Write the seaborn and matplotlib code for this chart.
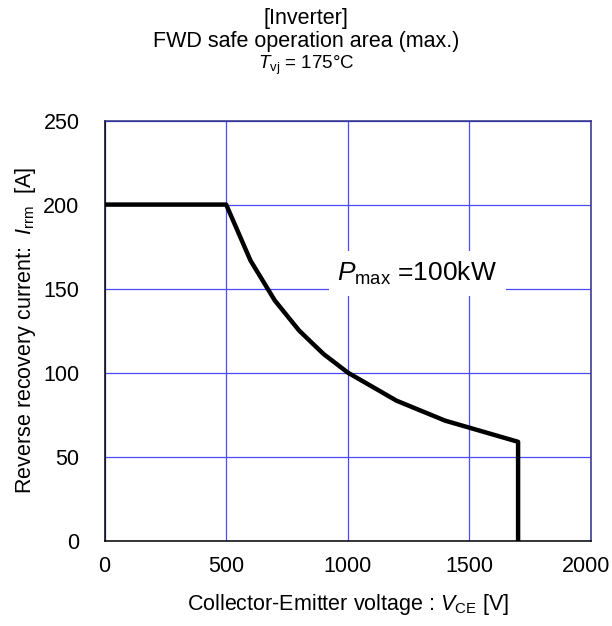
import matplotlib
matplotlib.use("Agg")
import matplotlib.pyplot as plt
import matplotlib.transforms as mtransforms
import seaborn as sns
import pandas as pd
from matplotlib.ticker import MultipleLocator

# FWD reverse-bias safe operating area boundary (P = 100 kW hyperbola section)
vce = [0, 500, 600, 700, 800, 900, 1000, 1200, 1400, 1700, 1700]
irrm = [200, 200, 166.7, 142.9, 125.0, 111.1, 100.0, 83.3, 71.4, 58.8, 0]

x_ticks = [0, 500, 1000, 1500, 2000]
y_ticks = [0, 50, 100, 150, 200, 250]

sns.set_theme(style="white")
plt.rcParams["font.family"] = ["Liberation Sans", "DejaVu Sans"]
plt.rcParams["mathtext.fontset"] = "custom"
plt.rcParams["mathtext.rm"] = "Liberation Sans"
plt.rcParams["mathtext.it"] = "Liberation Sans:italic"
plt.rcParams["text.color"] = "black"

df = pd.DataFrame({"VCE": vce, "Irrm": irrm})

fig = plt.figure(figsize=(6.12, 6.26), dpi=100)
ax = fig.add_axes([0.1708, 0.1364, 0.795, 0.671])

ax.set_xticks(x_ticks)
ax.set_yticks(y_ticks)
ax.xaxis.set_minor_locator(MultipleLocator(100))
ax.yaxis.set_minor_locator(MultipleLocator(10))
ax.grid(True, which="major", color="#4a4aff", linewidth=0.9)
ax.set_axisbelow(True)

sns.lineplot(data=df, x="VCE", y="Irrm", sort=False, estimator=None,
             errorbar=None, color="black", linewidth=3.2, ax=ax, zorder=3)
ax.set_xlim(0, 2000)
ax.set_ylim(0, 250)

for side, s in ax.spines.items():
    s.set_linewidth(1.1)
    s.set_color("black" if side in ("left", "bottom") else "#2e2e86")
ax.tick_params(axis="both", which="both", direction="in", colors="black",
               labelcolor="black", labelsize=15.5)
ax.tick_params(which="major", length=5, width=1)
ax.tick_params(which="minor", length=4, width=0.8)
ax.tick_params(axis="x", pad=11)
ax.tick_params(axis="y", pad=18)

# keep the last x tick label inside the figure
last = ax.get_xticklabels()[-1]
last.set_transform(last.get_transform() +
                   mtransforms.ScaledTranslation(-0.05, 0, fig.dpi_scale_trans))

ax.set_xlabel(r"Collector-Emitter voltage : $\mathit{V}_{\rm CE}$ [V]",
              fontsize=15.5, color="black", labelpad=11)
ax.set_ylabel(r"Reverse recovery current:  $\mathit{I}_{\rm rrm}$  [A]",
              fontsize=15.5, color="black", labelpad=4)

ax.text(1285, 159, r"$\mathit{P}_{\rm max}$ =100kW", fontsize=19,
        ha="center", va="center", zorder=4,
        bbox=dict(facecolor="white", edgecolor="none", pad=6))

fig.text(0.5, 0.971, "[Inverter]", ha="center", va="center", fontsize=15.5)
fig.text(0.5, 0.933, "FWD safe operation area (max.)", ha="center",
         va="center", fontsize=15.5)
fig.text(0.5, 0.895, r"$\mathit{T}_{\rm vj}$ = 175°C", ha="center",
         va="center", fontsize=13.5)

fig.savefig("out.png", dpi=100)
